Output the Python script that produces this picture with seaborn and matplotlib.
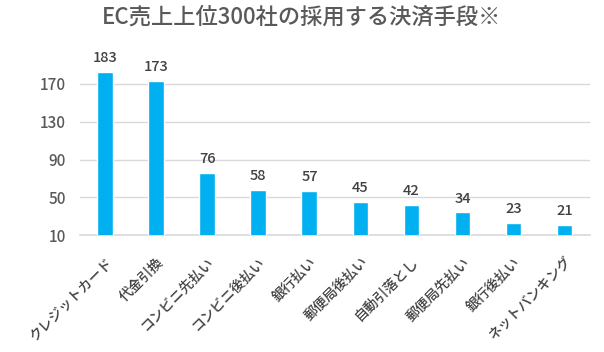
import pandas as pd
import numpy as np
import matplotlib
import seaborn as sns
matplotlib.use('Agg')
import matplotlib.pyplot as plt
from matplotlib.transforms import ScaledTranslation

methods = ['クレジットカード', '代金引換', 'コンビニ先払い', 'コンビニ後払い', '銀行払い',
           '郵便局後払い', '自動引落とし', '郵便局先払い', '銀行後払い', 'ネットバンキング']
counts = [183, 173, 76, 58, 57, 45, 42, 34, 23, 21]
yticks = [10, 50, 90, 130, 170]

sns.set_theme(style='white')
plt.rcParams['font.family'] = ['Noto Sans CJK JP', 'DejaVu Sans']

grey = '#595959'
df = pd.DataFrame({'method': methods, 'count': counts})

fig = plt.figure(figsize=(6.04, 3.52), dpi=100)
ax = fig.add_axes([0.132, 0.332, 0.845, 0.51])
sns.barplot(data=df, x='method', y='count', color='#00B0F0', saturation=1,
            width=0.31, ax=ax, zorder=3)
ax.set_ylim(10, 200)
ax.set_xlim(-0.5, len(methods) - 0.5)
ax.set_yticks(yticks)
ax.grid(axis='y', color='#D9D9D9', linewidth=1, zorder=0)
for s in ['top', 'right', 'left']:
    ax.spines[s].set_visible(False)
ax.spines['bottom'].set_color('#D9D9D9')
ax.spines['bottom'].set_linewidth(1.2)
ax.tick_params(axis='both', length=0, colors=grey, labelsize=11)
ax.tick_params(axis='x', labelsize=10, colors='#404040')
ax.tick_params(axis='y', pad=10)
ax.set_xlabel('')
ax.set_ylabel('')
shift = ScaledTranslation(0 / 100, -15 / 100, fig.dpi_scale_trans)
for lab in ax.get_xticklabels():
    lab.set_rotation(45)
    lab.set_ha('right')
    lab.set_rotation_mode('anchor')
    lab.set_fontweight('medium')
    lab.set_transform(lab.get_transform() + shift)
for lab in ax.get_yticklabels():
    lab.set_fontweight('medium')
for i, v in enumerate(counts):
    ax.annotate(str(v), (i, v), xytext=(0, 5), textcoords='offset points',
                ha='center', va='bottom', fontsize=10.5, color='#404040',
                fontweight='medium')
fig.suptitle('EC売上上位300社の採用する決済手段※', x=0.5, y=0.985,
             fontsize=16, color=grey, fontweight='medium')
fig.savefig('out.png', dpi=100)
